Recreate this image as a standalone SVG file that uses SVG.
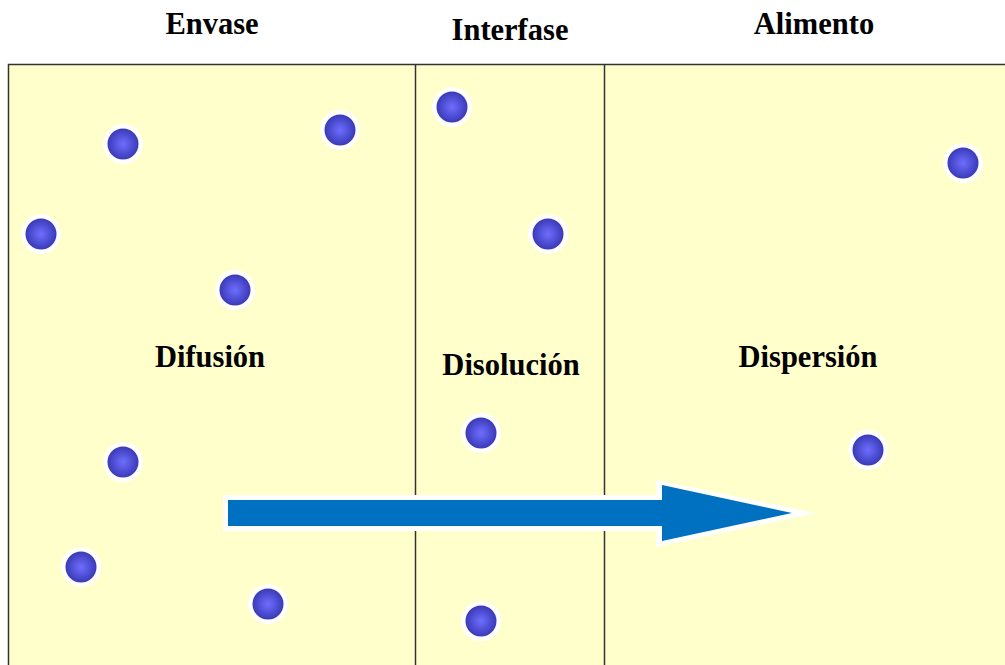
<svg xmlns="http://www.w3.org/2000/svg" width="1005" height="665" viewBox="0 0 1005 665">
<defs>
<radialGradient id="g" cx="50%" cy="50%" r="50%">
<stop offset="0" stop-color="#6e6eff"/>
<stop offset="1" stop-color="#3a3ab8"/>
</radialGradient>
<g id="dot"><circle r="20" fill="#ffffff"/><circle r="15.5" fill="url(#g)"/></g>
</defs>
<style>
.t{font-family:"Liberation Serif","Times New Roman",serif;font-weight:bold;font-size:30.5px;fill:#000;text-anchor:middle}
.ln{stroke:#333;stroke-width:1.5}
</style>
<rect width="1005" height="665" fill="#fff"/>
<g id="panels">
<rect x="8.5" y="64.5" width="1010" height="620" fill="#ffffcc" class="ln"/>
<line x1="415.5" y1="64" x2="415.5" y2="665" class="ln"/>
<line x1="604.5" y1="64" x2="604.5" y2="665" class="ln"/>
</g>
<g id="labels">
<text class="t" x="212" y="34">Envase</text>
<text class="t" x="510" y="40">Interfase</text>
<text class="t" x="814" y="34">Alimento</text>
<text class="t" x="210" y="367">Difusión</text>
<text class="t" x="511" y="375">Disolución</text>
<text class="t" x="808" y="367">Dispersión</text>
</g>
<g id="particles">
<use href="#dot" x="123" y="144"/>
<use href="#dot" x="340" y="130"/>
<use href="#dot" x="41" y="234"/>
<use href="#dot" x="235" y="290"/>
<use href="#dot" x="123" y="462"/>
<use href="#dot" x="81" y="567"/>
<use href="#dot" x="268" y="604"/>
<use href="#dot" x="452" y="107"/>
<use href="#dot" x="548" y="234"/>
<use href="#dot" x="481" y="433"/>
<use href="#dot" x="481" y="621"/>
<use href="#dot" x="963" y="163"/>
<use href="#dot" x="868" y="450"/>
</g>
<g id="connectors">
<polygon points="223,495 656,495 656,480 816,513 656,547 656,531 223,531" fill="#ffffff"/>
<polygon points="228,500 662,500 662,485 792,513 662,541 662,526 228,526" fill="#0070c0"/>
</g>
</svg>
